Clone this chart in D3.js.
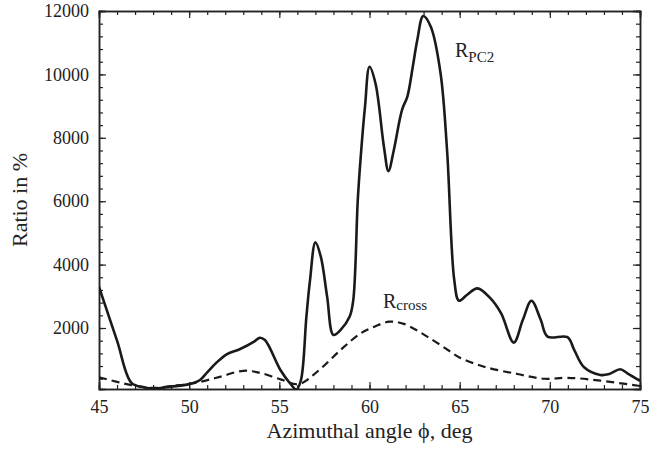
<!DOCTYPE html>
<html>
<head>
<meta charset="utf-8">
<script src="https://cdn.jsdelivr.net/npm/d3@7"></script>
<style>
  body { margin: 0; background: #fff; }
</style>
</head>
<body>
<script>
const WIDTH = 649;
const HEIGHT = 449;

const plotLeft = 99, plotRight = 640, plotTop = 11, plotBottom = 389;
const serif = '"Liberation Serif", "Times New Roman", Times, "DejaVu Serif", serif';

// R_PC2 (solid line)
const phiPC2 = [45, 46, 46.8, 47.5, 48, 49, 50, 50.6, 51, 51.5, 52.1, 52.8, 53.6, 53.9, 54.2, 55.06, 55.6, 55.95, 56.2, 56.5, 56.7, 57.0, 57.3, 57.65, 58.0, 58.4, 58.9, 59.1, 59.35, 59.5, 59.75, 60.0, 60.33, 60.8, 61.05, 61.35, 61.8, 62.1, 62.4, 62.65, 62.98, 63.4, 63.94, 64.3, 64.7, 64.96, 65.4, 65.98, 66.7, 67.3, 68.0, 68.5, 68.98, 69.5, 69.87, 70.98, 71.35, 71.9, 72.8, 73.3, 73.9, 74.3, 75];
const valPC2 = [3300, 1600, 270, 130, 90, 150, 230, 360, 600, 900, 1180, 1330, 1570, 1690, 1620, 675, 250, 60, 360, 2350, 3500, 4700, 4250, 2990, 1780, 1940, 2360, 2880, 6040, 7300, 8980, 10240, 9720, 7720, 6950, 7615, 8877, 9300, 10240, 11085, 11840, 11500, 10035, 7615, 3514, 2860, 3040, 3250, 2940, 2460, 1540, 2250, 2860, 2250, 1730, 1710, 1310, 760, 520, 550, 700, 570, 330];

// R_cross (dashed line)
const phiCross = [45, 46, 46.8, 48, 49, 50, 50.6, 51.7, 53.0, 53.9, 55.06, 56.07, 57.1, 58.4, 59.5, 60.3, 61.1, 61.9, 63.2, 64.5, 64.96, 66.35, 68.2, 69.7, 71.0, 72.8, 75];
const valCross = [445, 300, 200, 110, 170, 230, 300, 460, 650, 590, 380, 230, 620, 1310, 1830, 2050, 2200, 2130, 1730, 1250, 1080, 780, 550, 400, 430, 340, 170];

const xTicks = [45, 50, 55, 60, 65, 70, 75];
const yTicks = [2000, 4000, 6000, 8000, 10000, 12000];

const svg = d3.select("body").append("svg")
    .attr("width", WIDTH)
    .attr("height", HEIGHT);

const xScale = d3.scaleLinear().domain([45, 75]).range([plotLeft, plotRight]);
const yScale = d3.scaleLinear().domain([76, 12000]).range([plotBottom, plotTop]);

svg.append("defs").append("clipPath").attr("id", "plot")
    .append("rect")
    .attr("x", plotLeft).attr("y", plotTop)
    .attr("width", plotRight - plotLeft).attr("height", plotBottom - plotTop);

// ticks on all four sides, pointing inward
const xMinor = d3.range(45, 76, 1);
const yMinor = d3.range(400, 12001, 400);

svg.append("g").attr("transform", "translate(0," + plotBottom + ")")
    .call(d3.axisBottom(xScale).tickValues(xMinor).tickSize(-4).tickFormat(""));
svg.append("g").attr("transform", "translate(0," + plotBottom + ")")
    .call(d3.axisBottom(xScale).tickValues(xTicks).tickSize(-7).tickPadding(11).tickFormat(d => d));
svg.append("g").attr("transform", "translate(0," + plotTop + ")")
    .call(d3.axisTop(xScale).tickValues(xMinor).tickSize(-4).tickFormat(""));
svg.append("g").attr("transform", "translate(0," + plotTop + ")")
    .call(d3.axisTop(xScale).tickValues(xTicks).tickSize(-7).tickFormat(""));

svg.append("g").attr("transform", "translate(" + plotLeft + ",0)")
    .call(d3.axisLeft(yScale).tickValues(yMinor).tickSize(-4).tickFormat(""));
svg.append("g").attr("transform", "translate(" + plotLeft + ",0)")
    .call(d3.axisLeft(yScale).tickValues(yTicks).tickSize(-7).tickPadding(10).tickFormat(d => d));
svg.append("g").attr("transform", "translate(" + plotRight + ",0)")
    .call(d3.axisRight(yScale).tickValues(yMinor).tickSize(-4).tickFormat(""));
svg.append("g").attr("transform", "translate(" + plotRight + ",0)")
    .call(d3.axisRight(yScale).tickValues(yTicks).tickSize(-7).tickFormat(""));

svg.selectAll("g").attr("font-family", serif);
svg.selectAll(".domain").attr("stroke", "#222").attr("stroke-width", 1.5);
svg.selectAll(".tick line").attr("stroke", "#222").attr("stroke-width", 1.2);
svg.selectAll(".tick text")
    .attr("font-family", serif)
    .attr("font-size", 18)
    .attr("fill", "#222");

const line = d3.line()
    .x(d => xScale(d[0]))
    .y(d => yScale(d[1]))
    .curve(d3.curveCatmullRom.alpha(0.5));

const g = svg.append("g").attr("clip-path", "url(#plot)");

g.append("path")
    .datum(d3.zip(phiPC2, valPC2))
    .attr("fill", "none")
    .attr("stroke", "#1a1a1a")
    .attr("stroke-width", 2.6)
    .attr("d", line);

g.append("path")
    .datum(d3.zip(phiCross, valCross))
    .attr("fill", "none")
    .attr("stroke", "#1a1a1a")
    .attr("stroke-width", 2.2)
    .attr("stroke-dasharray", "8,5")
    .attr("d", line);

// curve labels
const lab1 = svg.append("text").attr("x", 455).attr("y", 57)
    .attr("font-family", serif).attr("font-size", 20).attr("fill", "#222");
lab1.append("tspan").text("R");
lab1.append("tspan").attr("dy", 5).attr("font-size", 15).text("PC2");

const lab2 = svg.append("text").attr("x", 383).attr("y", 308)
    .attr("font-family", serif).attr("font-size", 20).attr("fill", "#222");
lab2.append("tspan").text("R");
lab2.append("tspan").attr("dy", 2).attr("font-size", 15).text("cross");

// axis titles
svg.append("text")
    .attr("x", (plotLeft + plotRight) / 2)
    .attr("y", 438)
    .attr("text-anchor", "middle")
    .attr("font-family", serif)
    .attr("font-size", 22)
    .attr("fill", "#222")
    .text("Azimuthal angle ϕ, deg");

svg.append("text")
    .attr("transform", "translate(27," + (plotBottom + plotTop) / 2 + ") rotate(-90)")
    .attr("text-anchor", "middle")
    .attr("font-family", serif)
    .attr("font-size", 22)
    .attr("fill", "#222")
    .text("Ratio in %");
</script>
</body>
</html>
